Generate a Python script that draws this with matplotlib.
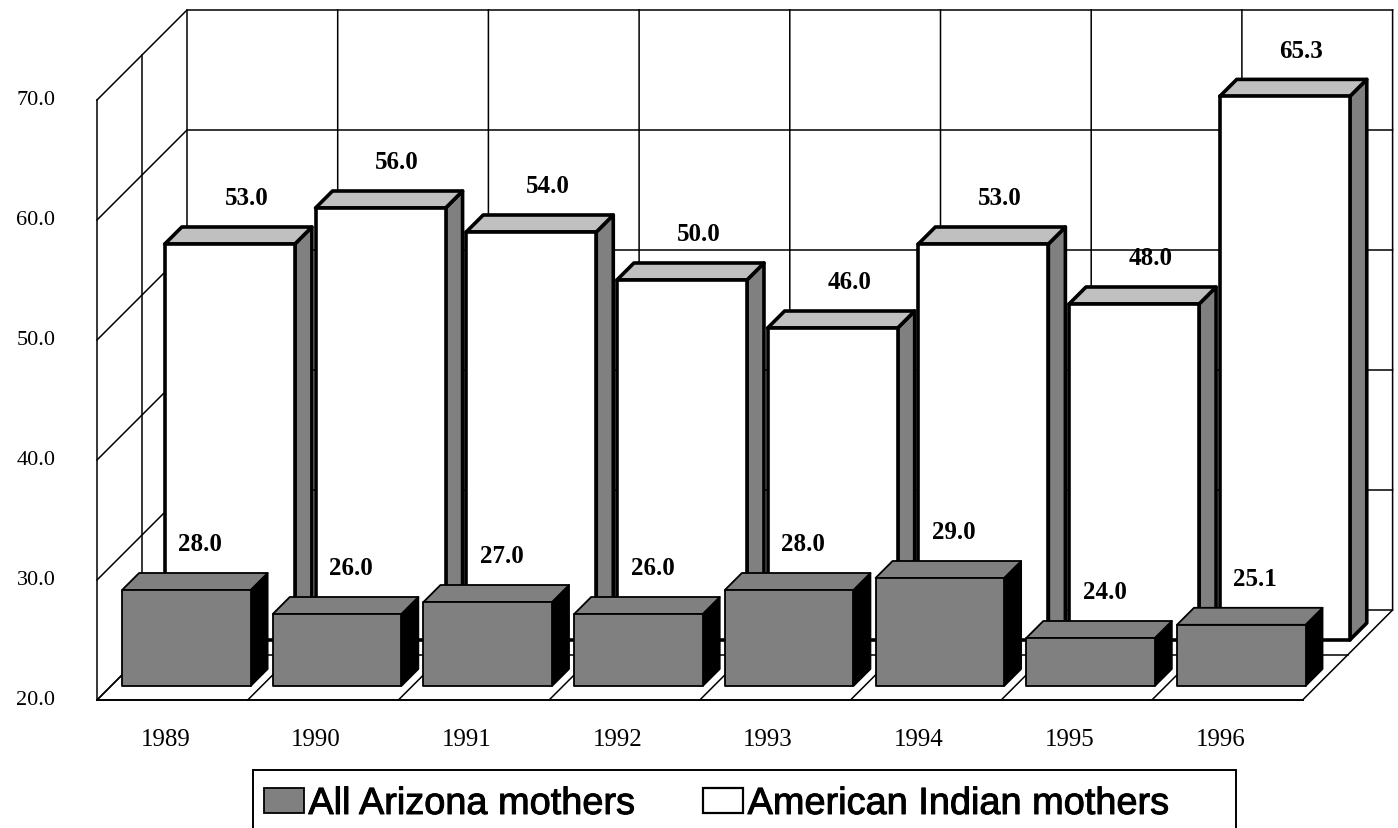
import numpy as np
import matplotlib
matplotlib.use("Agg")
import matplotlib.pyplot as plt
import matplotlib.patheffects as pe
from matplotlib.patches import Polygon, Patch, Rectangle

years = ["1989", "1990", "1991", "1992", "1993", "1994", "1995", "1996"]
all_arizona = [28.0, 26.0, 27.0, 26.0, 28.0, 29.0, 24.0, 25.1]
american_indian = [53.0, 56.0, 54.0, 50.0, 46.0, 53.0, 48.0, 65.3]
y_ticks = [20.0, 30.0, 40.0, 50.0, 60.0, 70.0]

# pixels per unit on the front plane, the depth shift is in pixels
PX_X = 150.7
PX_Y = 12.0
W, H = 1398, 829
LEFT, FLOOR = 97, 701
BASE = 20.0


def proj(x, y, d=0):
    return x + d / PX_X, y + d / PX_Y


def box(ax, i, val, d0, d1, width, shift, cols, lw, z):
    x0 = i + 0.5 - width / 2 + shift / PX_X
    x1 = i + 0.5 + width / 2 + shift / PX_X
    front = [proj(x0, BASE, d0), proj(x1, BASE, d0), proj(x1, val, d0), proj(x0, val, d0)]
    top = [proj(x0, val, d0), proj(x1, val, d0), proj(x1, val, d1), proj(x0, val, d1)]
    side = [proj(x1, BASE, d0), proj(x1, BASE, d1), proj(x1, val, d1), proj(x1, val, d0)]
    for pts, c in zip([side, top, front], cols):
        ax.add_patch(Polygon(pts, closed=True, fc=c, ec="black", lw=lw, joinstyle="round", zorder=z))


fig = plt.figure(figsize=(W / 100, H / 100), dpi=100)
ax = fig.add_axes([0, 0, 1, 1])
ax.set_xlim(-LEFT / PX_X, (W - LEFT) / PX_X)
ax.set_ylim(BASE - (H - FLOOR) / PX_Y, BASE + FLOOR / PX_Y)
ax.axis("off")

# walls and floor
DEPTH = 90
MID = 45
grid = dict(color="black", lw=1.1, zorder=1)
for v in y_ticks:
    p = [proj(0, v), proj(0, v, DEPTH), proj(8, v, DEPTH)]
    ax.plot(*zip(*p), **grid)
    ax.text(-0.405, v, f"{v:.1f}", family="Liberation Serif", size=16, ha="center", va="center")
for k in range(9):
    p = [proj(k, BASE), proj(k, BASE, DEPTH), proj(k, y_ticks[-1], DEPTH)]
    ax.plot(*zip(*p), **grid)
ax.plot(*zip(proj(0, BASE), proj(8, BASE)), color="black", lw=1.4, zorder=1)
ax.plot(*zip(proj(0, BASE), proj(0, y_ticks[-1])), **grid)
ax.plot(*zip(proj(0, y_ticks[-1], MID), proj(0, BASE, MID), proj(8, BASE, MID)), **grid)

# back row then front row
for i, v in enumerate(american_indian):
    box(ax, i, v, 60, 77, 0.863, -2.5, ["#808080", "#c0c0c0", "white"], 2.6, 3)
    x, y = proj(i + 0.5, v, 77 + 29)
    ax.text(x - 32 / PX_X, y, f"{v:.1f}", family="Liberation Serif", weight="bold",
            size=18, ha="center", va="center", zorder=6)
for i, v in enumerate(all_arizona):
    box(ax, i, v, 14, 31, 0.853, 0, ["black", "#808080", "#808080"], 1.3, 4)
    x, y = proj(i + 0.5, v, 31 + 29)
    ax.text(x - 32 / PX_X, y, f"{v:.1f}", family="Liberation Serif", weight="bold",
            size=18, ha="center", va="center", zorder=6)

for i, yr in enumerate(years):
    ax.text(i + 0.5 - 7 / PX_X, BASE - 3.27, yr, family="Liberation Serif", size=18, ha="center", va="center")

# legend frame runs off the bottom of the picture
ax.add_patch(Rectangle((253 / W, 1 - 771 / H), (1236 - 253) / W, -0.1, transform=ax.transAxes,
                       fc="white", ec="black", lw=1.4, zorder=7))
handles = [Patch(fc="#808080", ec="black", lw=1.3, label="All Arizona mothers"),
           Patch(fc="white", ec="black", lw=1.6, label="American Indian mothers")]
leg = ax.legend(handles=handles, ncol=2, frameon=False, loc="center left",
                bbox_to_anchor=(264 / W, 1 - 805 / H), borderaxespad=0, borderpad=0,
                prop=dict(family="Liberation Sans", size=27.3), handlelength=1.05, handleheight=0.66,
                handletextpad=0.12, columnspacing=1.8)
leg.set_zorder(8)
for t in leg.get_texts():
    t.set_path_effects([pe.withStroke(linewidth=0.7, foreground="black")])

fig.savefig("out.png", dpi=100)
